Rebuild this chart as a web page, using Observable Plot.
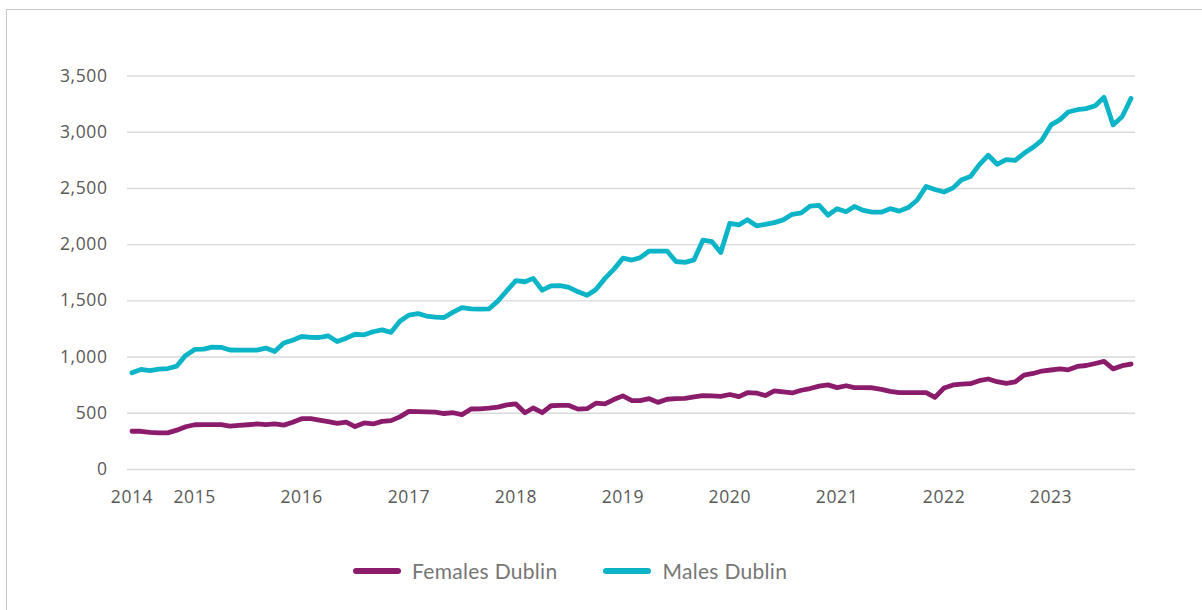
<!DOCTYPE html>
<html><head><meta charset="utf-8">
<script src="https://cdn.jsdelivr.net/npm/d3@7"></script>
<script src="https://cdn.jsdelivr.net/npm/@observablehq/plot@0.6"></script>
<style>
html,body{margin:0;padding:0;background:#fff}
body{width:1202px;height:610px;position:relative;overflow:hidden;font-family:"Open Sans",sans-serif}
#frame{position:absolute;left:6px;top:9px;width:1210px;height:620px;border:1px solid #c9c9c9;box-sizing:border-box}
#chart{position:absolute;left:0;top:0}
#chart svg text{letter-spacing:0.6px}
#legend{position:absolute;left:353px;top:558px;display:flex;align-items:center;font-family:Lato,sans-serif;font-size:21px;color:#767676;letter-spacing:0.3px}
.item{display:flex;align-items:center;margin-right:46px}
.swatch{width:48px;height:6px;border-radius:3px;margin-right:11px}
</style>
</head><body>
<div id="frame"></div>
<div id="chart"></div>
<div id="legend"></div>
<script>
const startMonth = "2014-06-01";
const seriesNames = ["Females Dublin", "Males Dublin"];
const seriesColors = ["#8b1c6c", "#0cb4c8"];
const females = [340,340,330,326,326,350,380,398,399,399,
  399,386,392,398,405,400,405,395,420,452,
  452,440,425,411,422,382,414,405,428,435,
  468,517,515,513,510,498,505,488,538,540,
  545,555,575,583,505,547,505,567,570,570,
  537,541,590,583,622,655,612,612,630,597,
  625,630,633,645,657,654,651,667,648,683,
  680,658,700,690,681,705,720,742,753,728,
  745,728,728,727,713,695,683,683,683,683,
  641,725,752,760,763,790,805,781,767,779,
  840,854,876,885,895,887,917,925,943,961,
  895,923,938];
const males = [860,890,880,893,898,920,1015,1068,1070,1088,
  1087,1063,1062,1062,1062,1080,1050,1125,1150,1183,
  1176,1174,1188,1138,1168,1203,1198,1225,1242,1220,
  1318,1373,1387,1365,1355,1352,1400,1440,1428,1426,
  1428,1500,1590,1680,1670,1700,1595,1633,1635,1620,
  1580,1550,1600,1700,1780,1880,1863,1884,1943,1943,
  1943,1850,1842,1865,2040,2026,1930,2190,2176,2222,
  2168,2180,2196,2220,2270,2283,2342,2350,2262,2320,
  2292,2340,2304,2290,2289,2320,2298,2330,2395,2518,
  2490,2468,2505,2575,2605,2710,2795,2715,2757,2750,
  2812,2866,2930,3065,3112,3180,3200,3210,3236,3310,
  3065,3140,3300];
const yTicks = [0,500,1000,1500,2000,2500,3000,3500];
const xTickYears = [2014,2015,2016,2017,2018,2019,2020,2021,2022,2023];

const start = new Date(startMonth);
const months = d3.utcMonth.range(start, d3.utcMonth.offset(start, females.length));
const rows = [
  ...females.map((v, i) => ({date: months[i], value: v, series: seriesNames[0]})),
  ...males.map((v, i) => ({date: months[i], value: v, series: seriesNames[1]}))
];
const xTicks = [months[0], ...xTickYears.slice(1).map(y => new Date(Date.UTC(y, 0, 1)))];

const chart = Plot.plot({
  width: 1202,
  height: 530,
  marginLeft: 127,
  marginRight: 67,
  marginTop: 75.5,
  marginBottom: 61,
  x: {type: "utc", domain: [months[0], months[months.length - 1]], inset: 4.5},
  y: {domain: [0, 3500]},
  color: {domain: seriesNames, range: seriesColors},
  style: {fontFamily: "Open Sans, sans-serif", fontSize: "17.5px", color: "#595959", background: "transparent"},
  marks: [
    Plot.ruleY(yTicks, {stroke: "#d9d9d9", strokeWidth: 1.4}),
    Plot.axisY(yTicks, {tickSize: 0, tickPadding: 20, tickFormat: d3.format(","), label: null}),
    Plot.axisX(xTicks, {tickSize: 0, tickPadding: 21, tickFormat: d => String(d.getUTCFullYear()), label: null}),
    Plot.line(rows, {x: "date", y: "value", z: "series", stroke: "series", strokeWidth: 4.8, strokeLinejoin: "round", strokeLinecap: "round"})
  ]
});
document.getElementById("chart").appendChild(chart);

const legend = document.getElementById("legend");
seriesNames.forEach((name, i) => {
  const item = document.createElement("div");
  item.className = "item";
  const sw = document.createElement("span");
  sw.className = "swatch";
  sw.style.background = seriesColors[i];
  const label = document.createElement("span");
  label.textContent = name;
  item.appendChild(sw);
  item.appendChild(label);
  legend.appendChild(item);
});
</script>
</body></html>
